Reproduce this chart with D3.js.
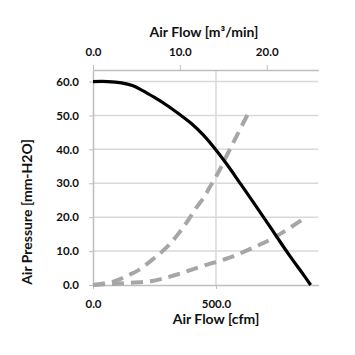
<!DOCTYPE html>
<html><head><meta charset="utf-8">
<script src="https://cdn.jsdelivr.net/npm/d3@7"></script>
<style>
html,body{margin:0;padding:0;background:#fff;}
svg{display:block;}
</style>
</head><body>
<svg id="c" width="355" height="355"></svg>
<script>
// Fan curve (black), cfm vs mm-H2O
const fanFlow = [0, 60, 116, 160, 200, 250, 300, 350, 400, 450, 500, 550, 600, 650, 700, 750, 800, 850, 885];
const fanPressure = [60, 60, 59.6, 58.8, 57.4, 55.3, 53.0, 50.4, 47.6, 44.1, 39.8, 35.0, 29.8, 24.6, 19.3, 13.9, 8.6, 3.6, 0];
// System curve A (steep, dashed)
const sysAFlow = [0, 82, 144, 185, 240, 274, 315, 349, 383, 418, 452, 472, 508, 535, 576, 638];
const sysAPressure = [0, 1, 2.9, 4.4, 7.4, 9.4, 12.3, 15.3, 18.7, 22.6, 26, 28.5, 33, 36.9, 42.8, 51.6];
// System curve B (shallow, dashed)
const sysBFlow = [0, 116, 240, 342, 445, 549, 645, 741, 864];
const sysBPressure = [0, 0.5, 1.2, 3.1, 5.6, 7.9, 10.8, 14.2, 19.9];
// Axis ticks
const yTicks = [0, 10, 20, 30, 40, 50, 60];
const xTicksCfm = [0, 500];
const xTicksM3 = [0, 10, 20];
const CFM_PER_M3 = 35.3147;

const svg = d3.select("#c");
const font = "Lato, 'Open Sans', sans-serif";
const x = d3.scaleLinear().domain([0, 916]).range([93, 318.3]);
const xTop = d3.scaleLinear().domain([0, 916 / CFM_PER_M3]).range([93, 318.3]);
const y = d3.scaleLinear().domain([0, 63.4]).range([285, 70]);

const grid = "#d9d9d9";
svg.append("g").selectAll("line").data(yTicks.filter(d => d > 0)).join("line")
  .attr("x1", x(0)).attr("x2", x.range()[1])
  .attr("y1", d => y(d)).attr("y2", d => y(d))
  .attr("stroke", grid).attr("stroke-width", 1.5);
svg.append("g").selectAll("line").data(xTicksCfm.filter(d => d > 0)).join("line")
  .attr("x1", d => x(d)).attr("x2", d => x(d))
  .attr("y1", y.range()[1]).attr("y2", y(0))
  .attr("stroke", grid).attr("stroke-width", 1.5);

function styleAxis(g) {
  g.select(".domain").attr("stroke", "#bfbfbf").attr("stroke-width", 1.5);
  g.selectAll(".tick line").attr("stroke", "#bfbfbf").attr("stroke-width", 1);
  g.selectAll("text").attr("font-family", font).attr("font-size", 11.5)
    .attr("font-weight", "bold").attr("fill", "#111");
}
const fmt = d3.format(".1f");
svg.append("g").attr("transform", `translate(${x(0)},0)`)
  .call(d3.axisLeft(y).tickValues(yTicks).tickFormat(fmt).tickSize(4).tickPadding(10).tickSizeOuter(0))
  .call(styleAxis);
svg.append("g").attr("transform", `translate(0,${y(0)})`)
  .call(d3.axisBottom(x).tickValues(xTicksCfm).tickFormat(fmt).tickSize(4).tickPadding(11).tickSizeOuter(0))
  .call(styleAxis);
svg.append("g").attr("transform", `translate(0,${y.range()[1]})`)
  .call(d3.axisTop(xTop).tickValues(xTicksM3).tickFormat(fmt).tickSize(5).tickPadding(9).tickSizeOuter(0))
  .call(styleAxis);

const line = d3.line().x(d => x(d[0])).y(d => y(d[1])).curve(d3.curveCatmullRom.alpha(0.5));
const zip = (a, b) => a.map((v, i) => [v, b[i]]);

svg.append("path").datum(zip(sysAFlow, sysAPressure)).attr("d", line)
  .attr("fill", "none").attr("stroke", "#a6a6a6").attr("stroke-width", 4)
  .attr("stroke-dasharray", "12,7");
svg.append("path").datum(zip(sysBFlow, sysBPressure)).attr("d", line)
  .attr("fill", "none").attr("stroke", "#a6a6a6").attr("stroke-width", 4)
  .attr("stroke-dasharray", "12,7");
svg.append("path").datum(zip(fanFlow, fanPressure)).attr("d", line)
  .attr("fill", "none").attr("stroke", "#000").attr("stroke-width", 3.2)
  .attr("stroke-linejoin", "round");

// titles
svg.append("text").attr("x", 204).attr("y", 37).attr("text-anchor", "middle")
  .attr("font-family", font).attr("font-weight", "bold").attr("font-size", 14)
  .attr("fill", "#111").text("Air Flow [m³/min]");
svg.append("text").attr("x", 216).attr("y", 324).attr("text-anchor", "middle")
  .attr("font-family", font).attr("font-weight", "bold").attr("font-size", 14)
  .attr("fill", "#111").text("Air Flow [cfm]");
svg.append("text").attr("transform", "translate(32,212) rotate(-90)").attr("text-anchor", "middle")
  .attr("font-family", font).attr("font-weight", "bold").attr("font-size", 14)
  .attr("fill", "#111").text("Air Pressure [mm-H2O]");
</script>
</body></html>
